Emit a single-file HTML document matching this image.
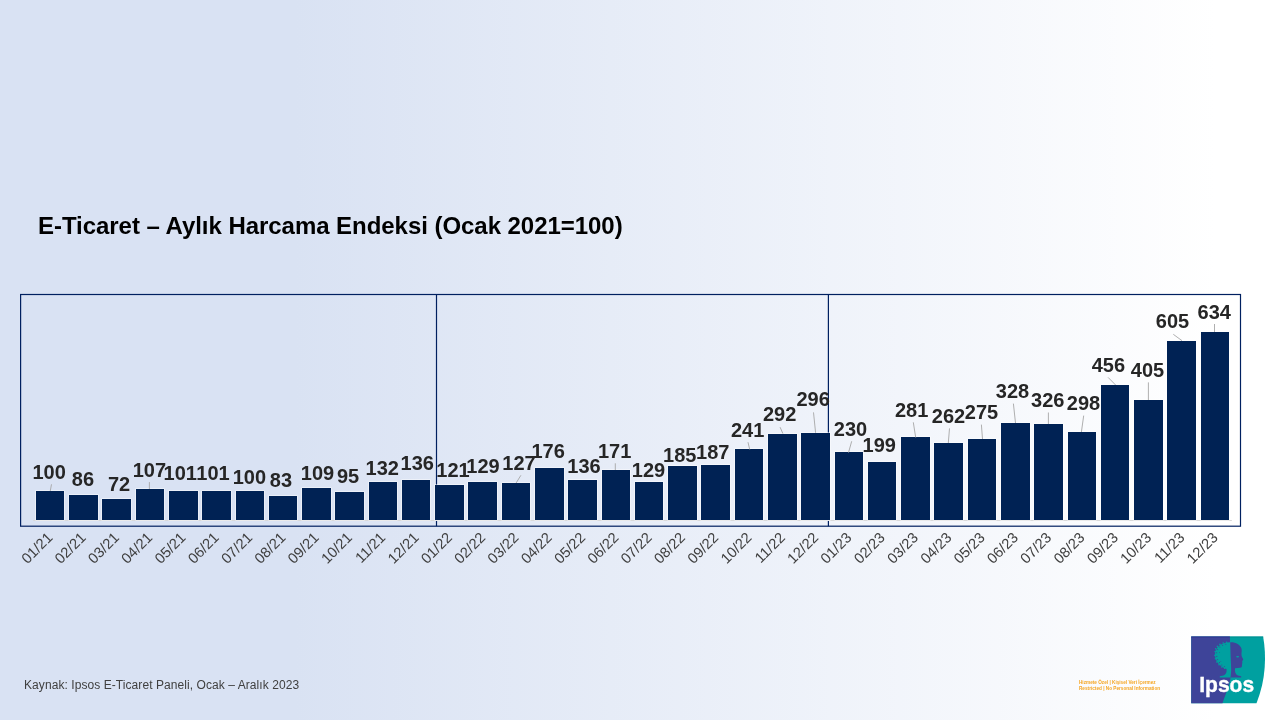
<!DOCTYPE html>
<html lang="tr">
<head>
<meta charset="utf-8">
<title>E-Ticaret – Aylık Harcama Endeksi</title>
<style>
html,body{margin:0;padding:0;}
body{width:1280px;height:720px;overflow:hidden;position:relative;font-family:"Liberation Sans",Arial,sans-serif;
background:linear-gradient(90deg,#D9E2F3 0%,#D9E2F3 23%,#FFFFFF 95%);}
h1{position:absolute;left:38px;top:212px;margin:0;font-size:24px;line-height:28px;font-weight:bold;color:#000;white-space:nowrap;letter-spacing:-0.045px;}
.src{position:absolute;left:24px;top:678px;font-size:12px;line-height:14px;color:#404040;white-space:nowrap;letter-spacing:0.07px;}
.conf{position:absolute;left:1079px;top:680px;font-size:4.68px;line-height:5.9px;letter-spacing:0.01px;color:#F5A623;white-space:nowrap;font-weight:bold;}
svg.chart{position:absolute;left:0;top:0;}
.bars rect{fill:#002254;stroke:#FFFFFF;stroke-opacity:0.75;stroke-width:1.2;paint-order:stroke fill;}
.lab text{font:bold 20px "Liberation Sans",Arial,sans-serif;fill:#262626;text-anchor:middle;}
.xl text{font:14.67px "Liberation Sans",Arial,sans-serif;fill:#404040;text-anchor:end;}
.lead line{stroke:#A6A6A6;stroke-width:0.9;}
</style>
</head>
<body>
<h1>E-Ticaret – Aylık Harcama Endeksi (Ocak 2021=100)</h1>
<svg class="chart" width="1280" height="720" viewBox="0 0 1280 720">
<g fill="none" stroke="#002060" stroke-width="1.2">
<rect x="20.6" y="294.5" width="1219.9" height="231.7"/>
<line x1="436.5" y1="294.5" x2="436.5" y2="526.2"/>
<line x1="828.4" y1="294.5" x2="828.4" y2="526.2"/>
</g>
<line x1="33.2" y1="520.5" x2="1231.9" y2="520.5" stroke="#D9D9D9" stroke-width="1"/>
<g class="bars">
<rect x="36" y="491" width="28" height="29"/>
<rect x="69" y="495" width="29" height="25"/>
<rect x="102" y="499" width="29" height="21"/>
<rect x="136" y="489" width="28" height="31"/>
<rect x="169" y="491" width="29" height="29"/>
<rect x="202" y="491" width="29" height="29"/>
<rect x="236" y="491" width="28" height="29"/>
<rect x="269" y="496" width="28" height="24"/>
<rect x="302" y="488" width="29" height="32"/>
<rect x="335" y="492" width="29" height="28"/>
<rect x="369" y="482" width="28" height="38"/>
<rect x="402" y="480" width="28" height="40"/>
<rect x="435" y="485" width="29" height="35"/>
<rect x="468" y="482" width="29" height="38"/>
<rect x="502" y="483" width="28" height="37"/>
<rect x="535" y="468" width="29" height="52"/>
<rect x="568" y="480" width="29" height="40"/>
<rect x="602" y="470" width="28" height="50"/>
<rect x="635" y="482" width="28" height="38"/>
<rect x="668" y="466" width="29" height="54"/>
<rect x="701" y="465" width="29" height="55"/>
<rect x="735" y="449" width="28" height="71"/>
<rect x="768" y="434" width="29" height="86"/>
<rect x="801" y="433" width="29" height="87"/>
<rect x="835" y="452" width="28" height="68"/>
<rect x="868" y="462" width="28" height="58"/>
<rect x="901" y="437" width="29" height="83"/>
<rect x="934" y="443" width="29" height="77"/>
<rect x="968" y="439" width="28" height="81"/>
<rect x="1001" y="423" width="29" height="97"/>
<rect x="1034" y="424" width="29" height="96"/>
<rect x="1068" y="432" width="28" height="88"/>
<rect x="1101" y="385" width="28" height="135"/>
<rect x="1134" y="400" width="29" height="120"/>
<rect x="1167" y="341" width="29" height="179"/>
<rect x="1201" y="332" width="28" height="188"/>
</g>
<g class="lead">
<line x1="51.5" y1="484.3" x2="50.25" y2="491"/>
<line x1="149.4" y1="482.1" x2="149.4" y2="489"/>
<line x1="520.9" y1="475.3" x2="516.1" y2="483"/>
<line x1="615.3" y1="463.3" x2="615.3" y2="470"/>
<line x1="748" y1="442.2" x2="749.7" y2="449.5"/>
<line x1="780.1" y1="427.2" x2="782.9" y2="433.6"/>
<line x1="813.5" y1="412.4" x2="815.6" y2="432.8"/>
<line x1="851.7" y1="441.25" x2="848.5" y2="452.6"/>
<line x1="913.3" y1="422.3" x2="915.7" y2="437.5"/>
<line x1="949.5" y1="428.4" x2="948.3" y2="443"/>
<line x1="981.4" y1="424.6" x2="982.5" y2="439"/>
<line x1="1013.4" y1="403.6" x2="1015.5" y2="423"/>
<line x1="1048.4" y1="412.5" x2="1048.4" y2="424"/>
<line x1="1083.7" y1="415.6" x2="1081.4" y2="432"/>
<line x1="1108.1" y1="377.4" x2="1115.6" y2="385"/>
<line x1="1148.4" y1="382.4" x2="1148.4" y2="400"/>
<line x1="1173.3" y1="334.3" x2="1182" y2="340.7"/>
<line x1="1214.5" y1="324" x2="1214.5" y2="332"/>
</g>
<g class="lab">
<text x="49.16" y="478.7">100</text>
<text x="82.96" y="486.1">86</text>
<text x="119.06" y="491.2">72</text>
<text x="149.36" y="476.6">107</text>
<text x="180.26" y="479.9">101</text>
<text x="212.96" y="479.9">101</text>
<text x="249.36" y="483.8">100</text>
<text x="280.91" y="487">83</text>
<text x="317.56" y="479.9">109</text>
<text x="348.06" y="483">95</text>
<text x="382.26" y="474.9">132</text>
<text x="417.26" y="470.1">136</text>
<text x="452.96" y="476.7">121</text>
<text x="482.96" y="473.3">129</text>
<text x="519.06" y="469.5">127</text>
<text x="548.16" y="457.5">176</text>
<text x="584.06" y="473.3">136</text>
<text x="614.66" y="457.8">171</text>
<text x="648.56" y="476.6">129</text>
<text x="679.76" y="462.3">185</text>
<text x="712.76" y="459">187</text>
<text x="747.66" y="436.6">241</text>
<text x="779.66" y="421.4">292</text>
<text x="813.16" y="406.4">296</text>
<text x="850.46" y="436">230</text>
<text x="879.26" y="451.8">199</text>
<text x="911.66" y="417">281</text>
<text x="948.46" y="423.2">262</text>
<text x="981.46" y="419">275</text>
<text x="1012.56" y="397.9">328</text>
<text x="1047.76" y="406.8">326</text>
<text x="1083.46" y="410.2">298</text>
<text x="1108.36" y="371.6">456</text>
<text x="1147.46" y="376.6">405</text>
<text x="1172.46" y="328.4">605</text>
<text x="1214.26" y="319">634</text>
</g>
<g class="xl">
<text transform="translate(53.4 538.5) rotate(-45)">01/21</text>
<text transform="translate(86.7 538.5) rotate(-45)">02/21</text>
<text transform="translate(119.99 538.5) rotate(-45)">03/21</text>
<text transform="translate(153.29 538.5) rotate(-45)">04/21</text>
<text transform="translate(186.59 538.5) rotate(-45)">05/21</text>
<text transform="translate(219.88 538.5) rotate(-45)">06/21</text>
<text transform="translate(253.18 538.5) rotate(-45)">07/21</text>
<text transform="translate(286.48 538.5) rotate(-45)">08/21</text>
<text transform="translate(319.78 538.5) rotate(-45)">09/21</text>
<text transform="translate(353.07 538.5) rotate(-45)">10/21</text>
<text transform="translate(386.37 538.5) rotate(-45)">11/21</text>
<text transform="translate(419.67 538.5) rotate(-45)">12/21</text>
<text transform="translate(452.96 538.5) rotate(-45)">01/22</text>
<text transform="translate(486.26 538.5) rotate(-45)">02/22</text>
<text transform="translate(519.56 538.5) rotate(-45)">03/22</text>
<text transform="translate(552.85 538.5) rotate(-45)">04/22</text>
<text transform="translate(586.15 538.5) rotate(-45)">05/22</text>
<text transform="translate(619.45 538.5) rotate(-45)">06/22</text>
<text transform="translate(652.75 538.5) rotate(-45)">07/22</text>
<text transform="translate(686.04 538.5) rotate(-45)">08/22</text>
<text transform="translate(719.34 538.5) rotate(-45)">09/22</text>
<text transform="translate(752.64 538.5) rotate(-45)">10/22</text>
<text transform="translate(785.93 538.5) rotate(-45)">11/22</text>
<text transform="translate(819.23 538.5) rotate(-45)">12/22</text>
<text transform="translate(852.53 538.5) rotate(-45)">01/23</text>
<text transform="translate(885.82 538.5) rotate(-45)">02/23</text>
<text transform="translate(919.12 538.5) rotate(-45)">03/23</text>
<text transform="translate(952.42 538.5) rotate(-45)">04/23</text>
<text transform="translate(985.72 538.5) rotate(-45)">05/23</text>
<text transform="translate(1019.01 538.5) rotate(-45)">06/23</text>
<text transform="translate(1052.31 538.5) rotate(-45)">07/23</text>
<text transform="translate(1085.61 538.5) rotate(-45)">08/23</text>
<text transform="translate(1118.9 538.5) rotate(-45)">09/23</text>
<text transform="translate(1152.2 538.5) rotate(-45)">10/23</text>
<text transform="translate(1185.5 538.5) rotate(-45)">11/23</text>
<text transform="translate(1218.8 538.5) rotate(-45)">12/23</text>
</g>
</svg>
<div class="src">Kaynak: Ipsos E-Ticaret Paneli, Ocak – Aralık 2023</div>
<div class="conf">Hizmete Özel | Kişisel Veri İçermez<br>Restricted | No Personal Information</div>
<svg class="logo" width="84" height="76" viewBox="1186 632 84 76" style="position:absolute;left:1186px;top:632px;">
<path d="M1191.2,636.6 H1263.1 C1266.5,655 1266,680 1256.5,703.2 H1191.2 Z" fill="#00A0A0"/>
<path d="M1191.2,636.6 H1229.9 L1230.6,677 C1230.2,683 1226.5,692 1222.5,703.2 H1191.2 Z" fill="#3E4499"/>
<rect x="1191.2" y="636.6" width="38.7" height="0.9" fill="#2F3390"/>
<rect x="1229.9" y="636.6" width="33.3" height="0.9" fill="#008C8E"/>
<!-- left half of head: teal on blue -->
<path d="M1230.2,642.2 C1222,642 1215,647 1215,654.5 C1215,661 1219.5,666.5 1226.5,669 C1227,672 1226,674.5 1223.5,675.6 L1219.8,676.3 V677.4 H1230.7 L1231.2,670 Z" fill="#00A0A0"/>
<g fill="#00A0A0">
<circle cx="1215.2" cy="651.6" r="0.8"/><circle cx="1215.6" cy="648.8" r="0.7"/><circle cx="1217.4" cy="646.4" r="0.8"/><circle cx="1220" cy="644.4" r="0.8"/><circle cx="1223.2" cy="643" r="0.8"/><circle cx="1226.6" cy="642.3" r="0.7"/>
<circle cx="1214.9" cy="655.4" r="0.8"/><circle cx="1215.4" cy="658.8" r="0.8"/><circle cx="1216.8" cy="662" r="0.8"/><circle cx="1219" cy="664.8" r="0.8"/><circle cx="1221.8" cy="667" r="0.8"/><circle cx="1224.6" cy="668.4" r="0.7"/>
</g>
<g fill="#3E4499">
<circle cx="1217.6" cy="649.6" r="0.55"/><circle cx="1219.8" cy="647" r="0.55"/><circle cx="1222.6" cy="645.2" r="0.55"/><circle cx="1225.8" cy="644.2" r="0.5"/>
<circle cx="1216.6" cy="652.8" r="0.55"/><circle cx="1216.8" cy="656.4" r="0.55"/><circle cx="1217.6" cy="659.6" r="0.55"/><circle cx="1219.4" cy="662.6" r="0.55"/>
<circle cx="1221.8" cy="665" r="0.55"/><circle cx="1224.4" cy="666.6" r="0.5"/><circle cx="1219.6" cy="652.4" r="0.45"/><circle cx="1220.8" cy="661.6" r="0.45"/>
</g>
<!-- right half of head: blue on teal -->
<path d="M1230.2,642.2 C1235,641.8 1240.5,644.5 1241.6,649 C1242,651.5 1241.2,653.5 1241.6,655.8 C1242,657.4 1243.2,658.6 1243.2,659.6 C1243.2,660.4 1242.2,660.6 1242.2,661.4 C1242.2,662.2 1242.6,662.6 1242.2,663.4 C1241.8,664.2 1242.2,665.4 1241.8,666.8 C1241.4,668 1239,668 1235,668.2 C1234.6,671.5 1235.4,674.5 1238,675.6 L1241.2,676.3 V677.4 H1230.7 L1231.2,670 Z" fill="#3E4499"/>
<ellipse cx="1237.6" cy="656.7" rx="1.5" ry="0.7" fill="#00A0A0"/>
<text x="1199.2" y="692.3" font-family="'Liberation Sans',Arial,sans-serif" font-weight="bold" font-size="22.3" fill="#FFFFFF" stroke="#FFFFFF" stroke-width="0.35" textLength="55" lengthAdjust="spacingAndGlyphs">Ipsos</text>
</svg>

</body>
</html>
